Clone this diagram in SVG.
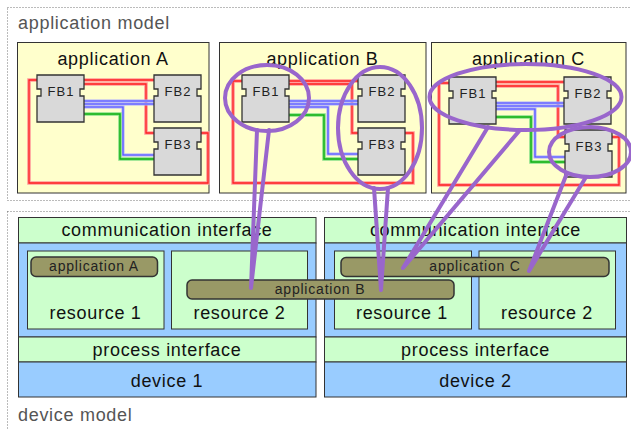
<svg xmlns="http://www.w3.org/2000/svg" xmlns:xlink="http://www.w3.org/1999/xlink" width="631" height="429" viewBox="0 0 631 429">
<style>
.frame{fill:none;stroke:#777;stroke-width:1;stroke-dasharray:1 2}
.note{font-family:"Liberation Sans",Arial,sans-serif;font-size:18px;letter-spacing:0.7px;fill:#555}
.appbox{fill:#ffffcc;stroke:#333;stroke-width:1}
.t18{font-family:"Liberation Sans",Arial,sans-serif;font-size:18px;letter-spacing:0.7px;fill:#111;text-anchor:middle}
.t14{font-family:"Liberation Sans",Arial,sans-serif;font-size:14px;letter-spacing:0.8px;fill:#222;text-anchor:middle}
.fb{fill:#d9d9d9;stroke:#333;stroke-width:1.3}
.fbl{font-family:"Liberation Sans",Arial,sans-serif;font-size:13px;letter-spacing:1px;fill:#222;text-anchor:middle}
.lg{fill:#ccffcc;stroke:#333;stroke-width:1}
.lb{fill:#99ccff;stroke:#333;stroke-width:1}
.bar{fill:#999966;stroke:#333;stroke-width:1.5}
.ov{fill:none;stroke:#9966cc;stroke-width:4;stroke-linejoin:round;stroke-linecap:round}
</style>
<defs>
<path id="fbshape" d="M0 0h47v14h-4v7h4v26h-47v-26h4v-7h-4z"/>
<g id="redA" fill="none"><path d="M84 80H154"/><path d="M84 84H146V133H154"/><path d="M37 80H29V183H208V133H201"/></g>
<g id="blueA" fill="none"><path d="M84 101H154"/><path d="M84 104H154"/><path d="M84 107H123V155H154"/></g>
<g id="greenA" fill="none"><path d="M84 114H120V159H154"/></g>
<g id="redB" fill="none"><path d="M289 81H358"/><path d="M289 84H352V133H358"/><path d="M242 81H233V183H413V133H405"/></g>
<g id="blueB" fill="none"><path d="M289 101H358"/><path d="M289 104H358"/><path d="M289 107H328V154H358"/></g>
<g id="greenB" fill="none"><path d="M289 115H324V159H358"/></g>
<g id="redC" fill="none"><path d="M496 82H564"/><path d="M496 86H558V137H565"/><path d="M449 83H439V185H619V137H612"/></g>
<g id="blueC" fill="none"><path d="M496 103H564"/><path d="M496 106H564"/><path d="M496 109H535V157H565"/></g>
<g id="greenC" fill="none"><path d="M496 117H531V162H565"/></g>
</defs>
<rect width="631" height="429" fill="#fff"/>
<rect class="frame" x="7.5" y="7.5" width="630" height="193"/>
<rect class="frame" x="7.5" y="211.5" width="630" height="230"/>
<text class="note" x="18" y="29">application model</text>
<text class="note" x="18" y="421">device model</text>

<g id="appA"><rect class="appbox" x="17.5" y="42.5" width="191.5" height="150.5"/><text class="t18" x="113" y="65">application A</text></g>
<g id="appB"><rect class="appbox" x="219.5" y="42.5" width="206.5" height="150.5"/><text class="t18" x="322.5" y="65">application B</text></g>
<g id="appC"><rect class="appbox" x="431.5" y="42.5" width="194.5" height="150.5"/><text class="t18" x="528.5" y="65">application C</text></g>

<g id="connectors">
<use xlink:href="#redA" stroke="#ff9a9a" stroke-width="3.6"/><use xlink:href="#redA" stroke="#ff2020" stroke-width="1.3"/>
<use xlink:href="#blueA" stroke="#aaaaff" stroke-width="3"/><use xlink:href="#blueA" stroke="#5050ff" stroke-width="1.1"/>
<use xlink:href="#greenA" stroke="#88e088" stroke-width="3.6"/><use xlink:href="#greenA" stroke="#10b010" stroke-width="1.4"/>
<use xlink:href="#redB" stroke="#ff9a9a" stroke-width="3.6"/><use xlink:href="#redB" stroke="#ff2020" stroke-width="1.3"/>
<use xlink:href="#blueB" stroke="#aaaaff" stroke-width="3"/><use xlink:href="#blueB" stroke="#5050ff" stroke-width="1.1"/>
<use xlink:href="#greenB" stroke="#88e088" stroke-width="3.6"/><use xlink:href="#greenB" stroke="#10b010" stroke-width="1.4"/>
<use xlink:href="#redC" stroke="#ff9a9a" stroke-width="3.6"/><use xlink:href="#redC" stroke="#ff2020" stroke-width="1.3"/>
<use xlink:href="#blueC" stroke="#aaaaff" stroke-width="3"/><use xlink:href="#blueC" stroke="#5050ff" stroke-width="1.1"/>
<use xlink:href="#greenC" stroke="#88e088" stroke-width="3.6"/><use xlink:href="#greenC" stroke="#10b010" stroke-width="1.4"/>
</g>

<g id="A_FB1"><use xlink:href="#fbshape" class="fb" x="37" y="75"/><text class="fbl" x="61" y="96">FB1</text></g>
<g id="A_FB2"><use xlink:href="#fbshape" class="fb" x="154" y="75"/><text class="fbl" x="178" y="96">FB2</text></g>
<g id="A_FB3"><use xlink:href="#fbshape" class="fb" x="154" y="128"/><text class="fbl" x="178" y="149">FB3</text></g>
<g id="B_FB1"><use xlink:href="#fbshape" class="fb" x="242" y="75"/><text class="fbl" x="266" y="96">FB1</text></g>
<g id="B_FB2"><use xlink:href="#fbshape" class="fb" x="358" y="75"/><text class="fbl" x="382" y="96">FB2</text></g>
<g id="B_FB3"><use xlink:href="#fbshape" class="fb" x="358" y="128"/><text class="fbl" x="382" y="149">FB3</text></g>
<g id="C_FB1"><use xlink:href="#fbshape" class="fb" x="449" y="77"/><text class="fbl" x="473" y="98">FB1</text></g>
<g id="C_FB2"><use xlink:href="#fbshape" class="fb" x="564" y="77"/><text class="fbl" x="588" y="98">FB2</text></g>
<g id="C_FB3"><use xlink:href="#fbshape" class="fb" x="565" y="130"/><text class="fbl" x="589" y="151">FB3</text></g>

<g id="device1">
<rect class="lg" x="18.5" y="217.5" width="297.5" height="25.5"/>
<rect class="lb" x="18.5" y="243" width="297.5" height="94"/>
<rect class="lg" x="18.5" y="337" width="297.5" height="25"/>
<rect class="lb" x="18.5" y="362" width="297.5" height="35"/>
<text class="t18" x="167" y="236">communication interface</text>
<text class="t18" x="167" y="356">process interface</text>
<text class="t18" x="167" y="387">device 1</text>
</g>
<g id="d1_res1"><rect class="lg" x="27.5" y="251" width="136.5" height="78"/><text class="t18" x="95.5" y="319">resource 1</text></g>
<g id="d1_res2"><rect class="lg" x="171.5" y="251" width="136" height="78"/><text class="t18" x="239.5" y="319">resource 2</text></g>

<g id="device2">
<rect class="lg" x="324.5" y="217.5" width="302" height="25.5"/>
<rect class="lb" x="324.5" y="243" width="302" height="94"/>
<rect class="lg" x="324.5" y="337" width="302" height="25"/>
<rect class="lb" x="324.5" y="362" width="302" height="35"/>
<text class="t18" x="475.5" y="236">communication interface</text>
<text class="t18" x="475.5" y="356">process interface</text>
<text class="t18" x="475.5" y="387">device 2</text>
</g>
<g id="d2_res1"><rect class="lg" x="334.5" y="251" width="137" height="78"/><text class="t18" x="402" y="319">resource 1</text></g>
<g id="d2_res2"><rect class="lg" x="479" y="251" width="136.5" height="78"/><text class="t18" x="547" y="319">resource 2</text></g>

<g id="barA"><rect class="bar" x="31" y="257" width="126.5" height="19.5" rx="5"/><text class="t14" x="94" y="271">application A</text></g>
<g id="barC"><rect class="bar" x="341" y="257.5" width="268" height="19" rx="5"/><text class="t14" x="475" y="271">application C</text></g>
<g id="barB"><rect class="bar" x="187" y="280" width="267" height="19" rx="5"/><text class="t14" x="320" y="294">application B</text></g>

<g id="overlays">
<ellipse class="ov" cx="267" cy="98" rx="42" ry="33"/>
<ellipse class="ov" cx="380" cy="128" rx="42" ry="61"/>
<ellipse class="ov" cx="525.5" cy="97" rx="96" ry="33"/>
<ellipse class="ov" cx="590" cy="152" rx="41" ry="25"/>
<path class="ov" d="M257 130L251 288L269 130"/>
<path class="ov" d="M374 188L381 290L388 188"/>
<path class="ov" d="M488 127L403 268L520 130"/>
<path class="ov" d="M567 173L529 271L586 177"/>
</g>
</svg>
